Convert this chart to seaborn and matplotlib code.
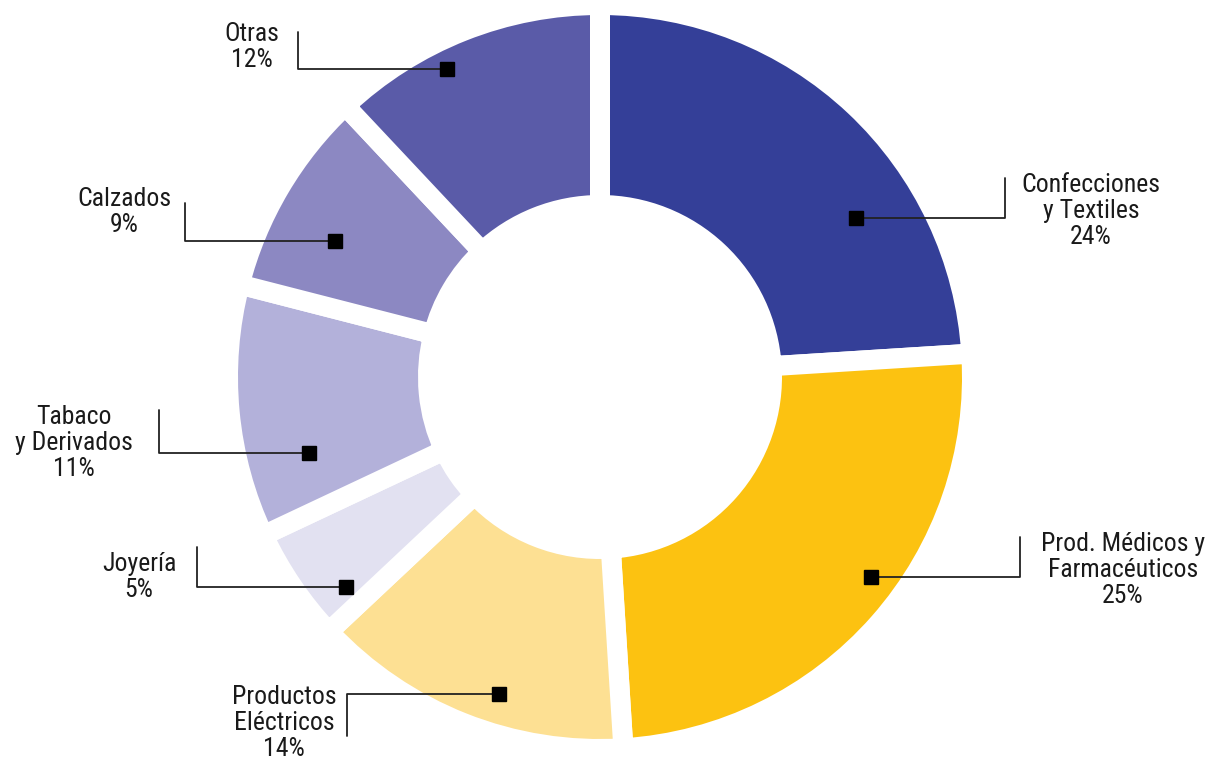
import matplotlib
matplotlib.use("Agg")
import matplotlib.pyplot as plt
import seaborn as sns

# data: share of each category (%), clockwise from the top
categories = ["Confecciones\ny Textiles", "Prod. Médicos y\nFarmacéuticos",
              "Productos\nEléctricos", "Joyería", "Tabaco\ny Derivados",
              "Calzados", "Otras"]
shares = [24, 25, 14, 5, 11, 9, 12]
colors = ["#343f98", "#fcc211", "#fde093", "#e2e1f1", "#b3b1da", "#8c88c2", "#5a5ba8"]

# layout (pixels): marker on the wedge, elbow of the leader line, label centre
markers = [(856, 218), (871, 577), (499, 694), (346, 587), (309, 453), (335, 241), (447, 69)]
elbows = [(1005, 178), (1020, 537), (347, 736), (197, 547), (159, 410), (185, 203), (298, 32)]
label_pos = [(1091, 211), (1123, 570), (284, 723), (139, 577), (74, 443), (124, 212), (252, 47)]

sns.set_theme(style="white")
plt.rcParams["font.family"] = ["Roboto Condensed", "Liberation Sans Narrow", "Roboto", "DejaVu Sans"]

fig = plt.figure(figsize=(12.12, 7.6), dpi=100)
ax = fig.add_axes([0, 0, 1, 1])

ax.pie(shares, colors=colors, startangle=-90, counterclock=True,
       center=(600, 377), radius=372,
       wedgeprops=dict(width=200, edgecolor="white", linewidth=14.4))

for cat, val, m, e, lp in zip(categories, shares, markers, elbows, label_pos):
    ax.plot([m[0], e[0], e[0]], [m[1], m[1], e[1]], color="#222222", lw=1.3, zorder=3)
    ax.plot(m[0], m[1], marker="s", markersize=10, color="black", zorder=4)
    ax.text(lp[0], lp[1], f"{cat}\n{val}%", ha="center", va="center",
            fontsize=18.5, color="#1a1a1a", linespacing=1.1)

ax.set_xlim(0, 1212)
ax.set_ylim(760, 0)
ax.set_aspect("equal")
ax.axis("off")

fig.savefig("out.png", dpi=100)
